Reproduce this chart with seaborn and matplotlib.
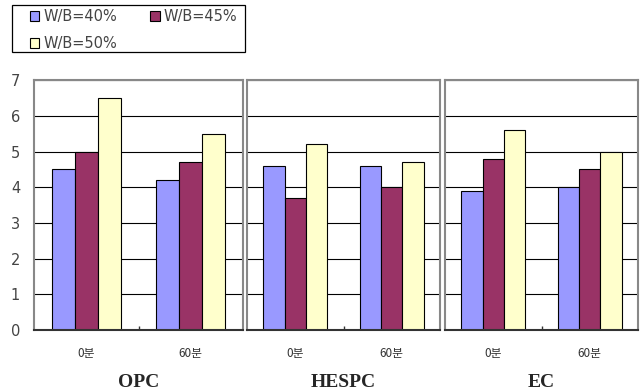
import matplotlib
matplotlib.use("Agg")
import matplotlib.pyplot as plt
import seaborn as sns
import pandas as pd
from matplotlib.ticker import FixedLocator
from matplotlib.patches import Rectangle

# Setting time categories and cement types
times = ["0분", "60분"]
cements = ["OPC", "HESPC", "EC"]
series_names = ["W/B=40%", "W/B=45%", "W/B=50%"]

# Values per cement: [0분, 60분]
opc_40 = [4.5, 4.2]
opc_45 = [5.0, 4.7]
opc_50 = [6.5, 5.5]

hespc_40 = [4.6, 4.6]
hespc_45 = [3.7, 4.0]
hespc_50 = [5.2, 4.7]

ec_40 = [3.9, 4.0]
ec_45 = [4.8, 4.5]
ec_50 = [5.6, 5.0]

yticks = [0, 1, 2, 3, 4, 5, 6, 7]

values = {
    "OPC": [opc_40, opc_45, opc_50],
    "HESPC": [hespc_40, hespc_45, hespc_50],
    "EC": [ec_40, ec_45, ec_50],
}

rows = []
for c in cements:
    for s, vals in zip(series_names, values[c]):
        for t, v in zip(times, vals):
            rows.append({"cement": c, "time": t, "series": s, "value": v})
df = pd.DataFrame(rows)

sns.set_theme(style="white")
plt.rcParams["font.family"] = ["DejaVu Sans", "Noto Sans CJK KR"]

palette = ["#9999FF", "#993366", "#FFFFCC"]

W, H = 640, 391
fig = plt.figure(figsize=(6.4, 3.91), dpi=100)
positions = [
    (34 / W, 0.156, 209 / W, 0.639),
    (247 / W, 0.156, 193 / W, 0.639),
    (445 / W, 0.156, 193 / W, 0.639),
]

handles = None
for i, (c, pos) in enumerate(zip(cements, positions)):
    ax = fig.add_axes(pos)
    sub = df[df["cement"] == c]
    sns.barplot(data=sub, x="time", y="value", hue="series", order=times,
                hue_order=series_names, palette=palette, width=0.66,
                edgecolor="black", linewidth=0.8, saturation=1, ax=ax,
                errorbar=None)
    ax.set_ylim(0, 7)
    ax.set_xlim(-0.5, 1.5)
    ax.yaxis.set_major_locator(FixedLocator(yticks))
    ax.grid(axis="y", color="black", linewidth=0.8)
    ax.set_axisbelow(True)
    for side in ["top", "left", "right"]:
        ax.spines[side].set_color("#888888")
        ax.spines[side].set_linewidth(1.5)
    ax.spines["bottom"].set_color("#333333")
    ax.spines["bottom"].set_linewidth(1.5)
    ax.set_xlabel("")
    ax.set_ylabel("")
    ax.tick_params(axis="x", length=0, labelsize=8.5, pad=12,
                   labelcolor="#333333")
    for lab in ax.get_xticklabels():
        lab.set_family(["Noto Sans CJK KR", "DejaVu Sans"])
    ax.xaxis.set_minor_locator(FixedLocator([0.5]))
    ax.tick_params(axis="x", which="minor", direction="in", length=3,
                   bottom=True, color="#333333")
    if i == 0:
        ax.tick_params(axis="y", length=0, labelsize=10.5, pad=10,
                       labelcolor="#444444")
    else:
        ax.set_yticklabels([])
        ax.tick_params(axis="y", length=0)
    if handles is None:
        handles, labels = ax.get_legend_handles_labels()
    ax.get_legend().remove()
    fig.text(pos[0] + pos[2] / 2, 0.0, c, ha="center", va="bottom",
             family="Liberation Serif", fontweight="bold", fontsize=14)

# Legend: 40% and 45% on the first row, 50% below
order = [0, 2, 1]
leg = fig.legend([handles[k] for k in order], [labels[k] for k in order],
                 ncol=2, loc="upper left",
                 bbox_to_anchor=(30 / W, 1 - 9 / H), frameon=False,
                 fontsize=10.5, handlelength=0.65, handleheight=0.65,
                 handletextpad=0.25, columnspacing=2.3, borderpad=0,
                 labelspacing=0.85, borderaxespad=0)
for t in leg.get_texts():
    t.set_color("#444444")
fig.add_artist(Rectangle((12 / W, 1 - 52 / H), 233 / W, 47 / H,
                         transform=fig.transFigure, fill=False,
                         edgecolor="black", linewidth=0.9))

fig.savefig("out.png", dpi=100)
